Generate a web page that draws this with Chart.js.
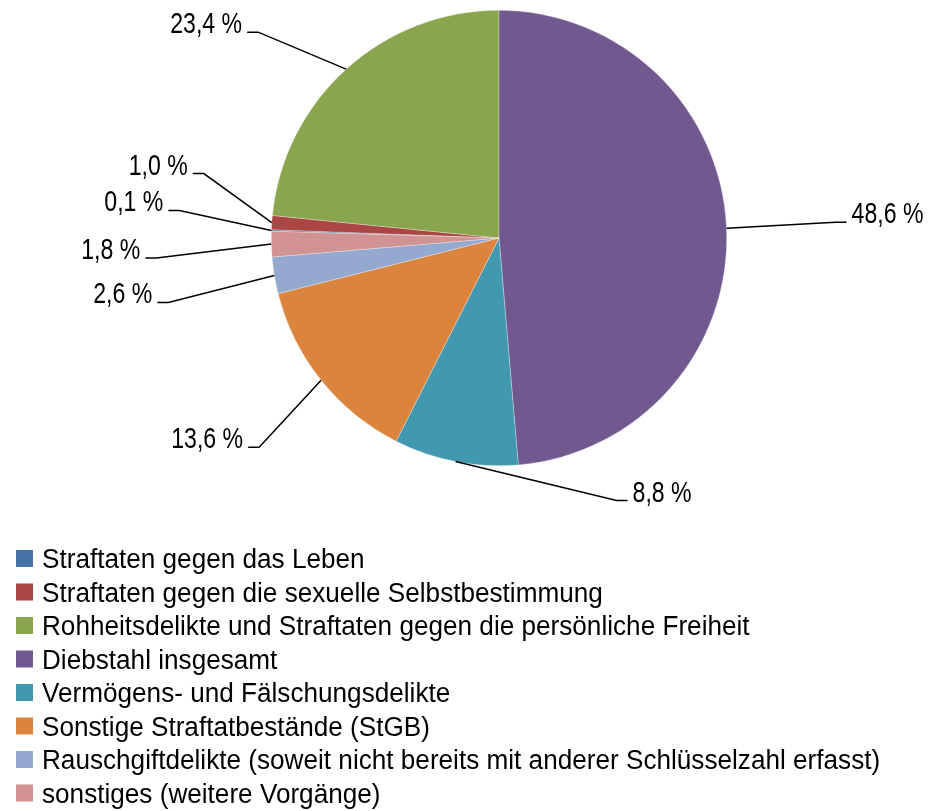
<!DOCTYPE html>
<html>
<head>
<meta charset="utf-8">
<script src="https://cdn.jsdelivr.net/npm/chart.js@4/dist/chart.umd.min.js"></script>
<style>
	body { margin: 0; background: #fff; }
	#wrap { position: relative; width: 929px; height: 811px; }
</style>
</head>
<body>
<div id="wrap"><canvas id="chart"></canvas></div>
<script>
// Anteile in Prozent, Reihenfolge wie in der Legende
const categories = [
	"Straftaten gegen das Leben",
	"Straftaten gegen die sexuelle Selbstbestimmung",
	"Rohheitsdelikte und Straftaten gegen die persönliche Freiheit",
	"Diebstahl insgesamt",
	"Vermögens- und Fälschungsdelikte",
	"Sonstige Straftatbestände (StGB)",
	"Rauschgiftdelikte (soweit nicht bereits mit anderer Schlüsselzahl erfasst)",
	"sonstiges (weitere Vorgänge)",
]
const shares = [0.1, 1.0, 23.4, 48.6, 8.8, 13.6, 2.6, 1.8]
const colors = ["#4572A7", "#AA4643", "#89A54E", "#71588F", "#4198AF", "#DB843D", "#93A9CF", "#D19392"]

// Diebstahl beginnt oben bei 12 Uhr
const total = shares.reduce((a, b) => a + b, 0)
const before = shares[0] + shares[1] + shares[2]
const rotation = -360 * before / total

// Knickpunkt der Führungslinie relativ zum Rand des Segments
const leaderOffsets = [[-92, -20], [-68, -49], [-88, -37], [109, -6], [161, 39], [-62, 67], [-106, 27], [-115, 14]]

function fmt(v) {
	return v.toFixed(1).replace(".", ",") + " %"
}

const pieLabels = {
	id: "pieLabels",
	afterDraw(chart) {
		const ctx = chart.ctx
		const meta = chart.getDatasetMeta(0)
		ctx.save()
		ctx.strokeStyle = "#000"
		ctx.lineWidth = 1.5
		ctx.fillStyle = "#000"
		ctx.font = "30px 'Liberation Sans', Arial, sans-serif"
		ctx.textBaseline = "alphabetic"
		meta.data.forEach((arc, i) => {
			const p = arc.getProps(["x", "y", "startAngle", "endAngle", "outerRadius"], true)
			const mid = (p.startAngle + p.endAngle) / 2
			const ax = p.x + Math.cos(mid) * p.outerRadius
			const ay = p.y + Math.sin(mid) * p.outerRadius
			const off = leaderOffsets[i]
			const ex = ax + off[0]
			const ey = ay + off[1]
			const dir = off[0] < 0 ? -1 : 1
			const hx = ex + dir * 11
			ctx.beginPath()
			ctx.moveTo(ax, ay)
			ctx.lineTo(ex, ey)
			ctx.lineTo(hx, ey)
			ctx.stroke()
			const txt = fmt(shares[i])
			ctx.save()
			ctx.translate(hx + dir * 5, ey + 1)
			ctx.scale(0.77, 1)
			ctx.textAlign = dir < 0 ? "right" : "left"
			ctx.fillText(txt, 0, 0)
			ctx.restore()
		})
		ctx.restore()
	}
}

const listLegend = {
	id: "listLegend",
	afterDraw(chart) {
		const ctx = chart.ctx
		ctx.save()
		ctx.font = "27px 'Liberation Sans', Arial, sans-serif"
		ctx.textBaseline = "alphabetic"
		ctx.textAlign = "left"
		categories.forEach((name, i) => {
			const y = 550 + i * 33.5
			ctx.fillStyle = colors[i]
			ctx.fillRect(16, y, 17, 17)
			ctx.fillStyle = "#000"
			ctx.save()
			ctx.translate(42, y + 18)
			ctx.scale(0.968, 1)
			ctx.fillText(name, 0, 0)
			ctx.restore()
		})
		ctx.restore()
	}
}

let chart = new Chart(document.getElementById("chart"), {
	type: "pie",
	data: {
		labels: categories,
		datasets: [{
			data: shares,
			backgroundColor: colors,
			borderColor: "rgba(255,255,255,0.6)",
			borderWidth: 0.5,
		}],
	},
	options: {
		animation: false,
		responsive: true,
		maintainAspectRatio: false,
		rotation: rotation,
		layout: {
			padding: { top: 10, bottom: 345, left: 69, right: 0 },
		},
		plugins: {
			legend: { display: false },
			tooltip: { enabled: false },
		},
	},
	plugins: [pieLabels, listLegend],
})
</script>
</body>
</html>
